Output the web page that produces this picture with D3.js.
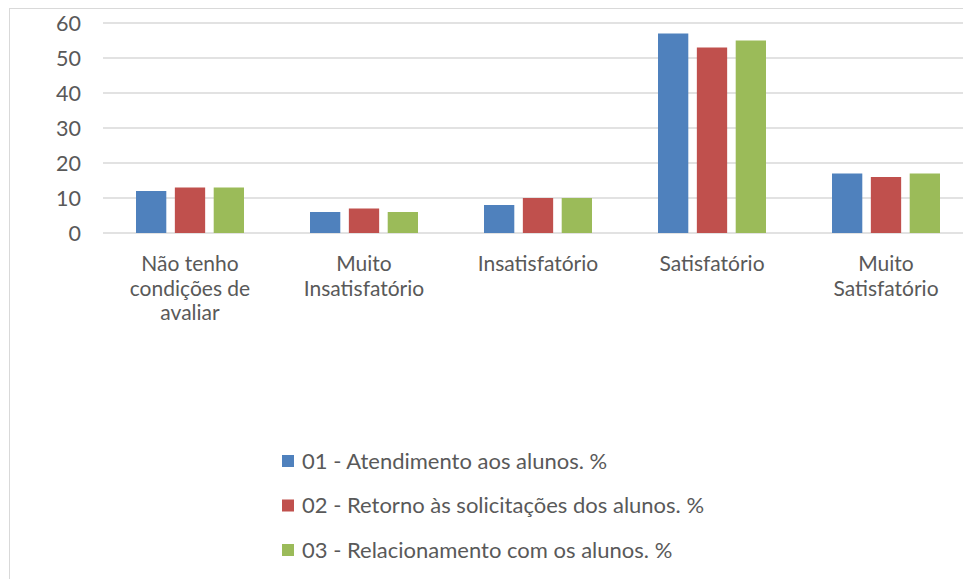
<!DOCTYPE html>
<html>
<head>
<meta charset="utf-8">
<script src="https://cdn.jsdelivr.net/npm/d3@7"></script>
<style>
  body { margin: 0; background: #fff; }
  text { font-family: Lato, "Open Sans", sans-serif; fill: #595959; }
</style>
</head>
<body>
<svg id="chart"></svg>
<script>
const width = 963;
const height = 579;

const categories = [
  ["Não tenho", "condições de", "avaliar"],
  ["Muito", "Insatisfatório"],
  ["Insatisfatório"],
  ["Satisfatório"],
  ["Muito", "Satisfatório"]
];
const seriesNames = [
  "01 - Atendimento aos alunos. %",
  "02 - Retorno às solicitações dos alunos. %",
  "03 - Relacionamento com os alunos. %"
];
const atendimento = [12, 6, 8, 57, 17];
const retorno = [13, 7, 10, 53, 16];
const relacionamento = [13, 6, 10, 55, 17];
const yTicks = [0, 10, 20, 30, 40, 50, 60];
const colors = ["#4f81bd", "#c0504d", "#9bbb59"];

const series = [atendimento, retorno, relacionamento];

const fontSize = 21;

const svg = d3.select("#chart")
    .attr("width", width)
    .attr("height", height);

// chart frame
svg.append("rect")
    .attr("x", 9.5).attr("y", 8.5)
    .attr("width", 1000).attr("height", 600)
    .attr("fill", "none")
    .attr("stroke", "#d9d9d9");

const x0 = d3.scaleBand()
    .domain(d3.range(categories.length))
    .range([103, 973]);

const x1 = d3.scaleBand()
    .domain(d3.range(series.length))
    .range([33, 141])
    .paddingInner(0.22);

const y = d3.scaleLinear()
    .domain([0, 60])
    .range([233, 23]);

// gridlines
svg.append("g")
    .selectAll("line")
    .data(yTicks)
  .enter().append("line")
    .attr("x1", 103).attr("x2", 973)
    .attr("y1", d => y(d)).attr("y2", d => y(d))
    .attr("stroke", "#d9d9d9")
    .attr("stroke-width", 1.3);

// y labels
svg.append("g")
    .selectAll("text")
    .data(yTicks)
  .enter().append("text")
    .attr("x", 81)
    .attr("y", d => y(d))
    .attr("dy", "0.35em")
    .attr("text-anchor", "end")
    .attr("font-size", 21.5)
    .text(d => d);

// bars
const groups = svg.append("g")
    .selectAll("g")
    .data(categories)
  .enter().append("g")
    .attr("transform", (d, i) => `translate(${x0(i)},0)`);

groups.selectAll("rect")
    .data((d, i) => series.map((s, j) => ({ j, v: s[i] })))
  .enter().append("rect")
    .attr("x", d => x1(d.j))
    .attr("width", x1.bandwidth())
    .attr("y", d => y(d.v))
    .attr("height", d => y(0) - y(d.v))
    .attr("fill", d => colors[d.j]);

// category labels
groups.append("text")
    .attr("text-anchor", "middle")
    .attr("font-size", fontSize)
    .attr("transform", `translate(${x0.bandwidth() / 2},0)`)
    .selectAll("tspan")
    .data(d => d)
  .enter().append("tspan")
    .attr("x", 0)
    .attr("y", (d, i) => 271 + i * 24.5)
    .text(d => d);

// legend
const legend = svg.append("g")
    .selectAll("g")
    .data(seriesNames)
  .enter().append("g")
    .attr("transform", (d, i) => `translate(282,${461 + i * 44.5})`);

legend.append("rect")
    .attr("x", 0).attr("y", -6)
    .attr("width", 12).attr("height", 12)
    .attr("fill", (d, i) => colors[i]);

legend.append("text")
    .attr("x", 20)
    .attr("dy", "0.35em")
    .attr("font-size", 22)
    .text(d => d);
</script>
</body>
</html>
